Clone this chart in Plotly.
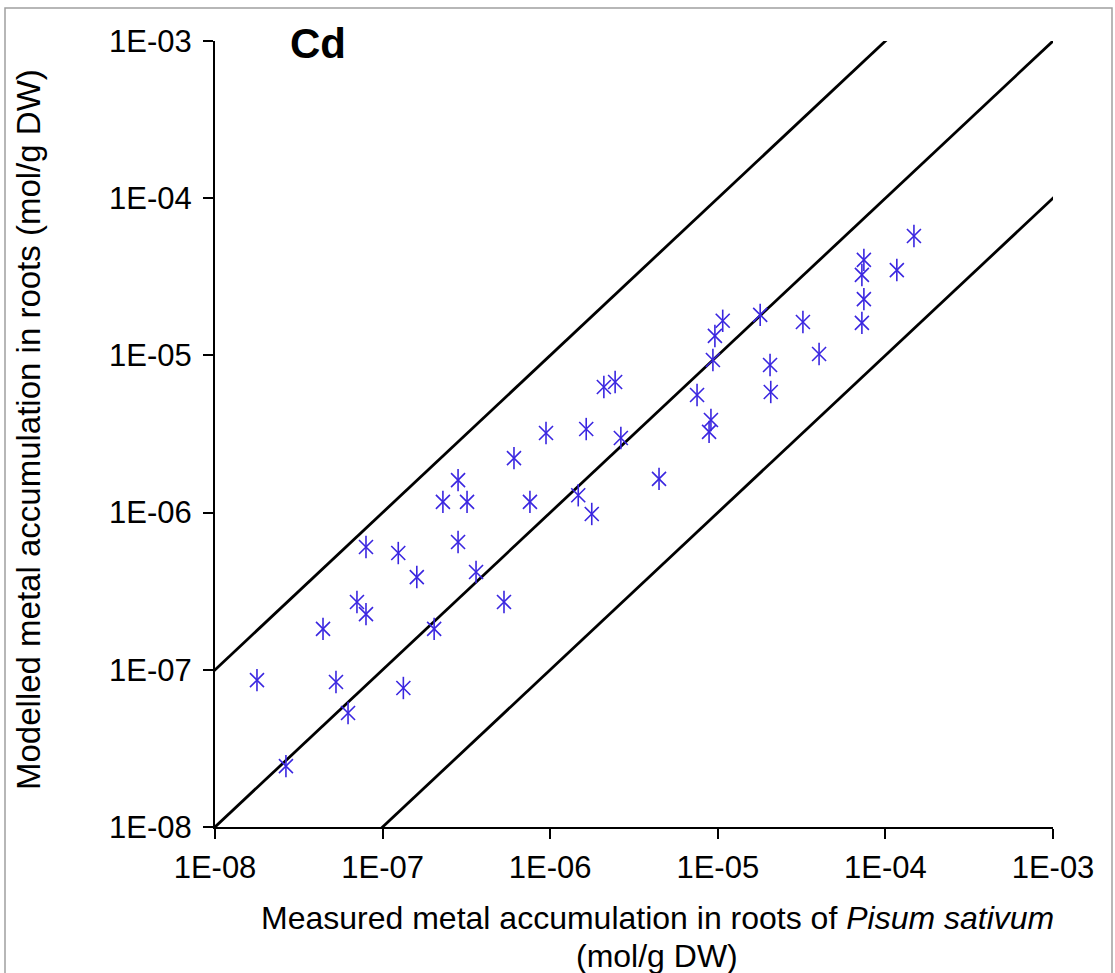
import plotly.graph_objects as go

# Measured vs modelled Cd accumulation in roots (mol/g DW)
measured = [
    1.78e-8, 2.65e-8, 4.41e-8, 5.27e-8, 6.22e-8, 7.03e-8, 7.96e-8, 7.96e-8, 1.24e-7, 1.33e-7,
    1.60e-7, 2.03e-7, 2.29e-7, 2.82e-7, 2.82e-7, 3.19e-7, 3.61e-7, 5.30e-7, 6.08e-7, 7.57e-7,
    9.44e-7, 1.47e-6, 1.77e-6, 1.64e-6, 2.09e-6, 2.44e-6, 2.64e-6, 4.46e-6, 7.52e-6, 9.10e-6,
    8.87e-6, 9.35e-6, 9.61e-6, 1.07e-5, 1.79e-5, 2.05e-5, 2.07e-5, 3.22e-5, 4.02e-5, 7.24e-5,
    7.44e-5, 7.24e-5, 7.44e-5, 1.17e-4, 1.48e-4,
]
modelled = [
    8.6e-8, 2.44e-8, 1.82e-7, 8.36e-8, 5.31e-8, 2.70e-7, 2.26e-7, 6.04e-7, 5.53e-7, 7.66e-8,
    3.89e-7, 1.82e-7, 1.17e-6, 1.61e-6, 6.50e-7, 1.17e-6, 4.19e-7, 2.70e-7, 2.22e-6, 1.17e-6,
    3.21e-6, 1.29e-6, 9.80e-7, 3.40e-6, 6.29e-6, 6.77e-6, 2.98e-6, 1.64e-6, 5.60e-6, 3.88e-6,
    3.26e-6, 9.35e-6, 1.33e-5, 1.66e-5, 1.81e-5, 8.69e-6, 5.85e-6, 1.63e-5, 1.02e-5, 1.61e-5,
    2.28e-5, 3.25e-5, 4.05e-5, 3.49e-5, 5.75e-5,
]

# 1:1 line and factor-of-ten bounds
ratios = [10, 1, 0.1]
line_x = [1e-9, 1e-2]

tick_vals = [1e-8, 1e-7, 1e-6, 1e-5, 1e-4, 1e-3]
tick_text = ["1E-08", "1E-07", "1E-06", "1E-05", "1E-04", "1E-03"]

FONT = "Liberation Sans, Arial, sans-serif"
MARKER = "#3A26E0"

fig = go.Figure()

for r in ratios:
    fig.add_trace(go.Scatter(
        x=line_x, y=[v * r for v in line_x], mode="lines",
        line=dict(color="black", width=2.8), hoverinfo="skip", showlegend=False,
    ))

# six-armed star marker: an x plus a vertical stroke
fig.add_trace(go.Scatter(
    x=measured, y=modelled, mode="markers",
    marker=dict(symbol="x-thin-open", size=14, color=MARKER,
                line=dict(color=MARKER, width=1.6)),
    showlegend=False,
))
fig.add_trace(go.Scatter(
    x=measured, y=modelled, mode="markers",
    marker=dict(symbol="line-ns-open", size=16, color=MARKER,
                line=dict(color=MARKER, width=1.6)),
    showlegend=False,
))

axis_common = dict(
    type="log", tickvals=tick_vals, ticktext=tick_text,
    showgrid=False, zeroline=False, showline=True, linecolor="black", linewidth=2,
    ticks="outside", ticklen=10, tickwidth=2, tickcolor="black",
    tickfont=dict(family=FONT, size=31, color="black"),
)

fig.update_xaxes(range=[-8, -3], ticklabelstandoff=2, **axis_common)
fig.update_yaxes(range=[-8, -3], ticklabelstandoff=5, **axis_common)

L, R, T, B = 215, 62, 41, 146
W, H = 1115, 973
pw, ph = W - L - R, H - T - B


def px(x):
    return (x - L) / pw


def py(y):
    return (H - B - y) / ph


fig.update_layout(
    width=W, height=H,
    margin=dict(l=L, r=R, t=T, b=B),
    paper_bgcolor="white", plot_bgcolor="white",
    font=dict(family=FONT, color="black"),
    annotations=[
        dict(text="<b>Cd</b>", x=px(318), y=py(44), xanchor="center", yanchor="middle",
             xref="paper", yref="paper", showarrow=False,
             font=dict(family=FONT, size=42, color="black")),
        dict(text="Measured metal accumulation in roots of <i>Pisum sativum</i>",
             x=px(657), y=py(918), xanchor="center", yanchor="middle",
             xref="paper", yref="paper", showarrow=False,
             font=dict(family=FONT, size=32, color="black")),
        dict(text="(mol/g DW)",
             x=px(657), y=py(956), xanchor="center", yanchor="middle",
             xref="paper", yref="paper", showarrow=False,
             font=dict(family=FONT, size=32, color="black")),
        dict(text="Modelled metal accumulation in roots (mol/g DW)",
             x=px(29), y=py(430), xanchor="center", yanchor="middle", textangle=-90,
             xref="paper", yref="paper", showarrow=False,
             font=dict(family=FONT, size=33, color="black")),
    ],
    shapes=[
        dict(type="rect", xref="paper", yref="paper",
             x0=px(5), x1=px(1112), y0=py(990), y1=py(8),
             line=dict(color="#A0A0A0", width=1.5), layer="below"),
    ],
)

fig.write_html("out.html")
